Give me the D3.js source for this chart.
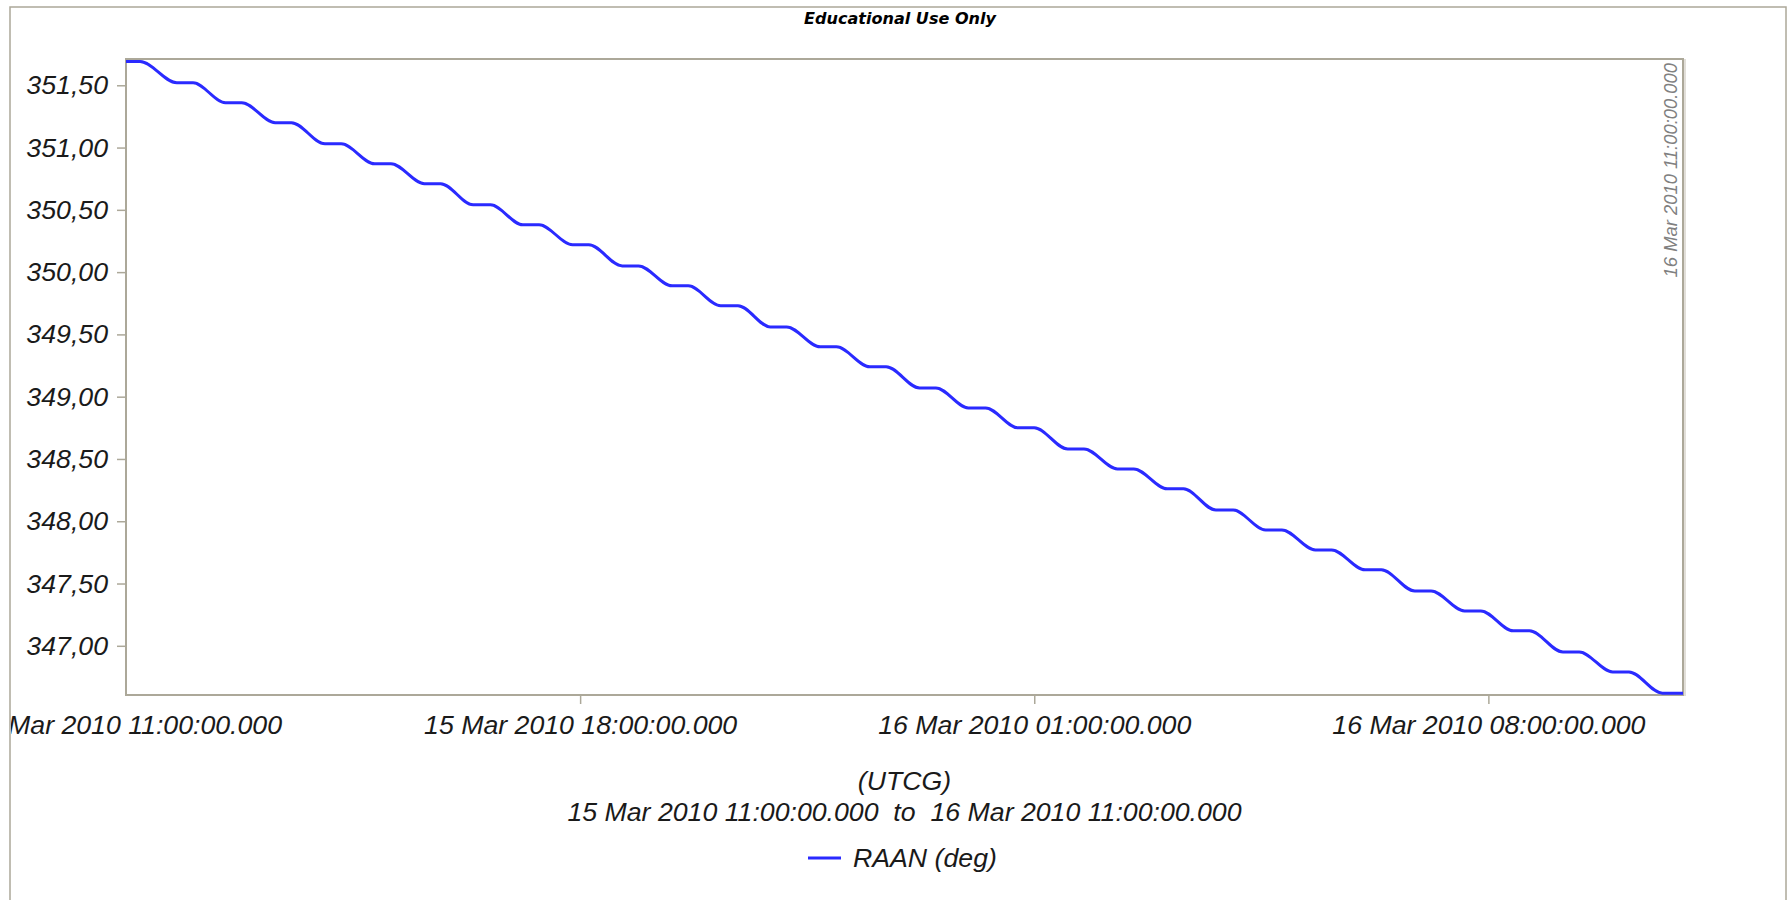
<!DOCTYPE html>
<html>
<head>
<meta charset="utf-8">
<script src="https://cdn.jsdelivr.net/npm/d3@7"></script>
<style>
  body { margin: 0; background: #fff; }
  text { font-family: "Liberation Sans", Arial, sans-serif; }
</style>
</head>
<body>
<div id="chart"></div>
<script>
// RAAN plateaus: start/end of each flat part (minutes after 15 Mar 2010 11:00 UTCG)
const stepStartMin = [0, 47, 92, 138, 184, 230, 276, 321, 367, 413, 459, 505, 550, 596, 642, 688,
  734, 779, 825, 871, 917, 963, 1008, 1054, 1100, 1146, 1192, 1238, 1283, 1329, 1375, 1421];
const stepEndMin = [13, 62, 107, 153, 199, 245, 291, 337, 382, 428, 474, 520, 566, 611, 657, 703,
  749, 795, 840, 886, 932, 978, 1024, 1069, 1115, 1161, 1207, 1253, 1298, 1344, 1390, 1440];
const raanDeg = [351.69, 351.52, 351.36, 351.20, 351.03, 350.87, 350.71, 350.54, 350.38, 350.22,
  350.05, 349.89, 349.73, 349.56, 349.40, 349.24, 349.07, 348.91, 348.75, 348.58, 348.42, 348.26,
  348.09, 347.93, 347.77, 347.61, 347.44, 347.28, 347.12, 346.95, 346.79, 346.62];

const yTicks = [347.0, 347.5, 348.0, 348.5, 349.0, 349.5, 350.0, 350.5, 351.0, 351.5];
const xTickTimes = ["2010-03-15T11:00:00Z", "2010-03-15T18:00:00Z", "2010-03-16T01:00:00Z", "2010-03-16T08:00:00Z"];
const startTime = "2010-03-15T11:00:00Z";
const stopTime = "2010-03-16T11:00:00Z";
const yDomain = [346.605, 351.711];

const width = 1789, height = 900;
const plot = { left: 126, right: 1683, top: 59, bottom: 695 };

const t0 = new Date(startTime);
const points = [];
raanDeg.forEach(function(v, i) {
  points.push({ t: new Date(t0.getTime() + stepStartMin[i] * 60000), v: v });
  points.push({ t: new Date(t0.getTime() + stepEndMin[i] * 60000), v: v });
});

const svg = d3.select('#chart').append('svg')
  .attr('width', width)
  .attr('height', height);

svg.append('defs').append('clipPath').attr('id', 'outer')
  .append('rect').attr('x', 11).attr('y', 7).attr('width', 1775).attr('height', 900);

const frameColor = '#aca899';

// outer frame
svg.append('rect')
  .attr('x', 10).attr('y', 7)
  .attr('width', 1776).attr('height', 905)
  .attr('fill', 'none')
  .attr('stroke', frameColor)
  .attr('stroke-width', 1.5);

const root = svg.append('g').attr('clip-path', 'url(#outer)');

const x = d3.scaleUtc()
  .domain([new Date(startTime), new Date(stopTime)])
  .range([plot.left, plot.right]);

const y = d3.scaleLinear()
  .domain(yDomain)
  .range([plot.bottom, plot.top]);

const comma = d3.formatLocale({ decimal: ",", thousands: ".", grouping: [3], currency: ["", ""] });
const fmtY = comma.format(".2f");
const fmtTime = d3.utcFormat("%d %b %Y %H:%M:%S.%L");

// title
root.append('text')
  .attr('x', 900).attr('y', 24)
  .attr('text-anchor', 'middle')
  .style('font-family', '"DejaVu Sans", sans-serif')
  .style('font-weight', 'bold')
  .style('font-style', 'italic')
  .style('font-size', '15px')
  .attr('textLength', 192)
  .attr('lengthAdjust', 'spacingAndGlyphs')
  .text('Educational Use Only');

// y axis
const yAxis = root.append('g')
  .attr('transform', `translate(${plot.left},0)`)
  .call(d3.axisLeft(y).tickValues(yTicks).tickFormat(fmtY).tickSize(9).tickPadding(9));

// x axis
const xAxis = root.append('g')
  .attr('transform', `translate(0,${plot.bottom})`)
  .call(d3.axisBottom(x).tickValues(xTickTimes.map(function(d) { return new Date(d); }))
    .tickFormat(fmtTime).tickSize(9).tickPadding(11));

[yAxis, xAxis].forEach(function(ax) {
  ax.select('.domain').remove();
  ax.selectAll('.tick line').attr('stroke', frameColor).attr('stroke-width', 1.5);
  ax.selectAll('.tick text')
    .attr('fill', '#1a1a1a')
    .style('font-size', '26.7px')
    .style('font-style', 'italic')
    .style('font-family', '"Liberation Sans", Arial, sans-serif');
});
// no tick mark under the frame corner
xAxis.selectAll('.tick').filter(function(d, i) { return i === 0; }).select('line').remove();

// plot frame
root.append('rect')
  .attr('x', plot.left).attr('y', plot.top)
  .attr('width', plot.right - plot.left).attr('height', plot.bottom - plot.top)
  .attr('fill', 'none')
  .attr('stroke', frameColor)
  .attr('stroke-width', 2);
root.append('line')
  .attr('x1', plot.right + 2).attr('x2', plot.right + 2)
  .attr('y1', plot.top).attr('y2', plot.bottom + 1)
  .attr('stroke', '#d8d5cc')
  .attr('stroke-width', 1.5);

// stop time marker label
root.append('text')
  .attr('transform', `translate(${x(new Date(stopTime)) - 6},63) rotate(-90)`)
  .attr('text-anchor', 'end')
  .attr('fill', '#808080')
  .style('font-style', 'italic')
  .style('font-size', '18.4px')
  .text(fmtTime(new Date(stopTime)));

// the RAAN curve
const line = d3.line()
  .x(function(d) { return x(d.t); })
  .y(function(d) { return y(d.v); })
  .curve(d3.curveMonotoneX);

root.append('path')
  .datum(points)
  .attr('d', line)
  .attr('fill', 'none')
  .attr('stroke', '#2a2aff')
  .attr('stroke-width', 3)
  .attr('stroke-linejoin', 'round');

// axis titles
const cx = (plot.left + plot.right) / 2;
root.append('text')
  .attr('x', cx).attr('y', 790)
  .attr('text-anchor', 'middle')
  .attr('fill', '#1a1a1a')
  .style('font-style', 'italic')
  .style('font-size', '26.7px')
  .text('(UTCG)');

root.append('text')
  .attr('x', cx).attr('y', 821)
  .attr('text-anchor', 'middle')
  .attr('fill', '#1a1a1a')
  .style('font-style', 'italic')
  .style('font-size', '26.7px')
  .style('white-space', 'pre')
  .attr('xml:space', 'preserve')
  .text(fmtTime(new Date(startTime)) + '  to  ' + fmtTime(new Date(stopTime)));

// legend
const legend = root.append('g').attr('transform', 'translate(808,858)');
legend.append('line')
  .attr('x1', 0).attr('x2', 33)
  .attr('y1', 0).attr('y2', 0)
  .attr('stroke', '#2a2aff')
  .attr('stroke-width', 3);
legend.append('text')
  .attr('x', 45).attr('y', 9)
  .attr('fill', '#1a1a1a')
  .style('font-style', 'italic')
  .style('font-size', '26.7px')
  .text('RAAN (deg)');
</script>
</body>
</html>
